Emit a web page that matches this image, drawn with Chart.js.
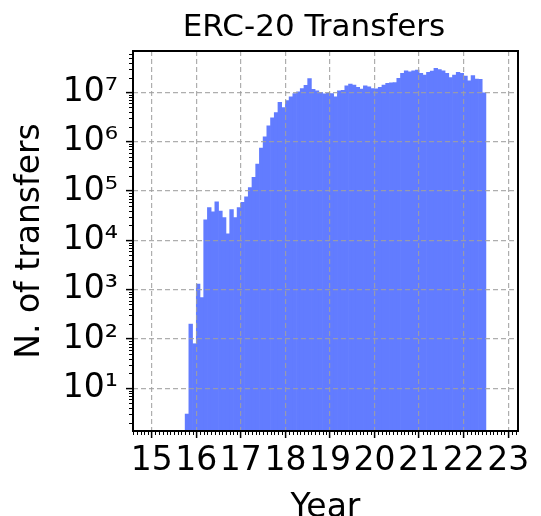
<!DOCTYPE html>
<html>
<head>
<meta charset="utf-8">
<title>ERC-20 Transfers</title>
<script src="https://cdn.jsdelivr.net/npm/chart.js@4.4.0/dist/chart.umd.min.js"></script>
<style>
  html, body { margin: 0; padding: 0; background: #fff; }
  #chart { display: block; }
</style>
</head>
<body>
<canvas id="chart" width="541" height="516"></canvas>
<script>
var chartTitle = 'ERC-20 Transfers';
var xTitle = 'Year';
var yTitle = 'N. of transfers';

// first monthly bin is October 2015
var firstYear = 2015, firstMonth = 10;

// monthly ERC-20 transfers, Oct 2015 .. Jun 2022
var transfers = [
    3, 200, 80, 1300, 690, 26000, 46000, 38000, 60000, 39000, 29000, 13500,
    42000, 29000, 46000, 59000, 76000, 118000, 190000, 350000, 740000, 1260000, 2100000, 3050000,
    3900000, 6300000, 4900000, 6800000, 8100000, 9500000, 10300000, 12000000, 13900000, 19000000, 11500000, 10800000,
    10000000, 9300000, 9600000, 9500000, 8100000, 10800000, 11000000, 13600000, 14700000, 14000000, 12600000, 11700000,
    13600000, 13000000, 12000000, 11800000, 12600000, 14000000, 15200000, 15600000, 15800000, 19200000, 24300000, 27400000,
    26000000, 27400000, 28300000, 24300000, 22400000, 25400000, 27000000, 30700000, 29000000, 27400000, 24300000, 20000000,
    22400000, 25400000, 24300000, 21400000, 17200000, 22000000, 18600000, 18300000, 9800000
];

var yearTicks = [15, 16, 17, 18, 19, 20, 21, 22, 23];
var yearLabels = ['15', '16', '17', '18', '19', '20', '21', '22', '23'];
var powerTicks = [1, 2, 3, 4, 5, 6, 7];
var xRange = [14.58, 23.22];
var yRange = [1.36, 6.9e7];

var SUP = ['\u2070', '\u00b9', '\u00b2', '\u00b3', '\u2074', '\u2075', '\u2076', '\u2077', '\u2078', '\u2079'];
var FONT = '"DejaVu Sans", sans-serif';
var BAR_COLOR = 'rgb(98,124,255)';
var GRID_COLOR = 'rgba(160,160,160,0.85)';

var points = [];
for (var i = 0; i < transfers.length; i++) {
    points.push({
        x: (firstYear - 2000) + (firstMonth - 1 + i + 0.5) / 12,
        y: transfers[i]
    });
}

// minor ticks, axes frame and title
var decorPlugin = {
    id: 'decor',
    afterDraw: function (chart) {
        var ctx = chart.ctx,
            area = chart.chartArea,
            xs = chart.scales.x,
            ys = chart.scales.y;
        ctx.save();
        ctx.strokeStyle = '#000';
        ctx.lineWidth = 1;
        ctx.beginPath();
        for (var m = Math.ceil(xs.min * 12); m <= xs.max * 12; m++) {
            if (m % 12 === 0) continue;
            var px = Math.round(xs.getPixelForValue(m / 12)) + 0.5;
            ctx.moveTo(px, area.bottom);
            ctx.lineTo(px, area.bottom + 4);
        }
        for (var p = 0; p <= 7; p++) {
            for (var d = 2; d <= 9; d++) {
                var v = d * Math.pow(10, p);
                if (v < ys.min || v > ys.max) continue;
                var py = Math.round(ys.getPixelForValue(v)) + 0.5;
                ctx.moveTo(area.left - 4, py);
                ctx.lineTo(area.left, py);
            }
        }
        ctx.stroke();

        ctx.lineWidth = 2;
        ctx.strokeRect(area.left, area.top, area.right - area.left, area.bottom - area.top);

        ctx.fillStyle = '#000';
        ctx.font = '31px ' + FONT;
        ctx.textAlign = 'center';
        ctx.textBaseline = 'alphabetic';
        ctx.fillText(chartTitle, 314, 36);
        ctx.restore();
    }
};

new Chart(document.getElementById('chart'), {
    type: 'bar',
    data: {
        datasets: [{
            data: points,
            backgroundColor: BAR_COLOR,
            borderWidth: 0,
            barPercentage: 1,
            categoryPercentage: 1,
            grouped: false
        }]
    },
    options: {
        responsive: false,
        animation: false,
        devicePixelRatio: 1,
        layout: {padding: {top: 51, right: 23, left: 0, bottom: 0}},
        plugins: {
            legend: {display: false},
            tooltip: {enabled: false},
            title: {display: false}
        },
        scales: {
            x: {
                type: 'linear',
                offset: false,
                min: xRange[0],
                max: xRange[1],
                afterBuildTicks: function (scale) {
                    scale.ticks = yearTicks.map(function (v) { return {value: v}; });
                },
                afterFit: function (scale) { scale.height = 85; },
                ticks: {
                    color: '#000',
                    font: {family: FONT, size: 33},
                    padding: 4,
                    maxRotation: 0,
                    autoSkip: false,
                    callback: function (value) {
                        return yearLabels[yearTicks.indexOf(Math.round(value))];
                    }
                },
                grid: {offset: false, color: GRID_COLOR, lineWidth: 1.2, tickColor: '#000', tickWidth: 1.5, tickLength: 7, z: 1},
                border: {display: false, dash: [5, 3]},
                title: {
                    display: true,
                    text: xTitle,
                    color: '#000',
                    font: {family: FONT, size: 33, lineHeight: 0.47},
                    padding: 0
                }
            },
            y: {
                type: 'logarithmic',
                min: yRange[0],
                max: yRange[1],
                afterBuildTicks: function (scale) {
                    scale.ticks = powerTicks.map(function (p) { return {value: Math.pow(10, p)}; });
                },
                afterFit: function (scale) { scale.width = 133; },
                ticks: {
                    color: '#000',
                    font: {family: FONT, size: 33},
                    padding: 8,
                    autoSkip: false,
                    callback: function (value) {
                        var p = Math.round(Math.log10(value));
                        return '10' + SUP[p];
                    }
                },
                grid: {color: GRID_COLOR, lineWidth: 1.2, tickColor: '#000', tickWidth: 1.5, tickLength: 7, z: 1},
                border: {display: false, dash: [5, 3]},
                title: {
                    display: true,
                    text: yTitle,
                    color: '#000',
                    font: {family: FONT, size: 33},
                    padding: {top: 11, bottom: 0}
                }
            }
        }
    },
    plugins: [decorPlugin]
});
</script>
</body>
</html>
